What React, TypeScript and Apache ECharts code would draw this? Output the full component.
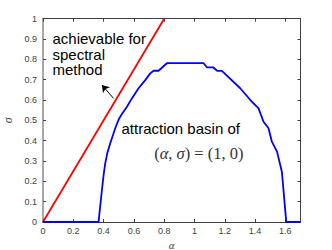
import React, { useEffect, useRef } from "react";
import * as echarts from "echarts";

const basinAlpha = [0, 0.367, 0.375, 0.388, 0.4, 0.411, 0.425, 0.444, 0.477, 0.5, 0.52, 0.554, 0.587, 0.631, 0.675, 0.708, 0.73, 0.763, 0.818, 1.06, 1.082, 1.122, 1.152, 1.181, 1.302, 1.369, 1.423, 1.456, 1.489, 1.511, 1.545, 1.577, 1.606, 1.7];
const basinSigma = [0, 0, 0.06, 0.15, 0.23, 0.289, 0.34, 0.387, 0.461, 0.505, 0.53, 0.567, 0.608, 0.658, 0.698, 0.731, 0.744, 0.744, 0.781, 0.781, 0.761, 0.761, 0.743, 0.743, 0.658, 0.6, 0.559, 0.493, 0.461, 0.395, 0.346, 0.247, 0, 0];
const spectralAlpha = [0, 0.8];
const spectralSigma = [0, 1];
const arrowFrom = [0.466, 0.608];
const arrowTo = [0.389, 0.674];

const AXIS_DARK = "#404040";

export default function App() {
  const ref = useRef<HTMLDivElement>(null);
  useEffect(() => {
    document.body.style.margin = "0";
    const chart = echarts.init(ref.current!, undefined, { renderer: "svg" });
    const fmt = (v: number) => String(+v.toFixed(1));
    const sans = '"Liberation Sans"';
    const serif = '"Liberation Serif"';
    const baseX = {
      type: "value",
      min: 0,
      max: 1.7,
      interval: 0.2,
      axisLine: { show: true, onZero: false, lineStyle: { color: AXIS_DARK, width: 1 } },
      axisTick: { show: true, inside: true, length: 3, lineStyle: { color: AXIS_DARK } },
      splitLine: { show: false },
    };
    const baseY = {
      type: "value",
      min: 0,
      max: 1,
      interval: 0.1,
      axisLine: { show: true, onZero: false, lineStyle: { color: AXIS_DARK, width: 1 } },
      axisTick: { show: true, inside: true, length: 3, lineStyle: { color: AXIS_DARK } },
      splitLine: { show: false },
    };
    chart.setOption({
      animation: false,
      backgroundColor: "#ffffff",
      grid: { left: 43, right: 31.5, top: 18.7, bottom: 28, outerBoundsMode: "none", containLabel: false },
      xAxis: [
        {
          ...baseX,
          position: "bottom",
          name: "α",
          nameLocation: "middle",
          nameGap: 11,
          nameTextStyle: { fontFamily: serif, fontStyle: "italic", fontSize: 11, color: "#444" },
          axisLabel: { fontSize: 9, color: AXIS_DARK, margin: 4, fontFamily: sans, showMaxLabel: false, formatter: fmt },
        },
        {
          ...baseX,
          position: "top",
          axisLabel: { show: false },
        },
      ],
      yAxis: [
        {
          ...baseY,
          position: "left",
          name: "σ",
          nameLocation: "middle",
          nameGap: 24,
          nameTextStyle: { fontFamily: serif, fontStyle: "italic", fontSize: 12, color: "#444" },
          axisLine: { show: true, onZero: false, lineStyle: { color: "#a8a8a8", width: 2 } },
          axisLabel: { fontSize: 9, color: AXIS_DARK, margin: 6, fontFamily: sans, formatter: fmt },
        },
        {
          ...baseY,
          position: "right",
          axisLabel: { show: false },
        },
      ],
      series: [
        {
          type: "line",
          name: "spectral",
          data: spectralAlpha.map((a, i) => [a, spectralSigma[i]]),
          showSymbol: false,
          lineStyle: { color: "#ff0000", width: 1.8 },
        },
        {
          type: "line",
          name: "basin",
          data: basinAlpha.map((a, i) => [a, basinSigma[i]]),
          showSymbol: false,
          lineStyle: { color: "#0000ff", width: 1.8 },
        },
        {
          type: "lines",
          coordinateSystem: "cartesian2d",
          silent: true,
          symbol: ["none", "arrow"],
          symbolSize: 7,
          lineStyle: { color: "#000000", width: 1, opacity: 1, curveness: 0 },
          data: [{ coords: [arrowFrom, arrowTo] }],
        },
      ],
      graphic: [
        {
          type: "text",
          x: 52.5,
          y: 31,
          style: {
            text: "achievable for\nspectral\nmethod",
            fontSize: 15,
            fontFamily: sans,
            fill: "#000",
            lineHeight: 15.5,
            textVerticalAlign: "top",
          },
        },
        {
          type: "text",
          x: 121.5,
          y: 120.5,
          style: {
            text: "attraction basin of",
            fontSize: 15,
            fontFamily: sans,
            fill: "#000",
            lineHeight: 15.5,
            textVerticalAlign: "top",
          },
        },
        {
          type: "text",
          x: 243.5,
          y: 153.5,
          style: {
            text: "({i|α}, {i|σ}) = (1, 0)",
            fontSize: 16.5,
            fontFamily: serif,
            fill: "#333",
            textAlign: "right",
            textVerticalAlign: "middle",
            rich: { i: { fontStyle: "italic", fontFamily: serif, fontSize: 16.5, fill: "#333" } },
          },
        },
      ],
    });
    return () => chart.dispose();
  }, []);
  return <div ref={ref} style={{ width: 332, height: 250 }} />;
}
